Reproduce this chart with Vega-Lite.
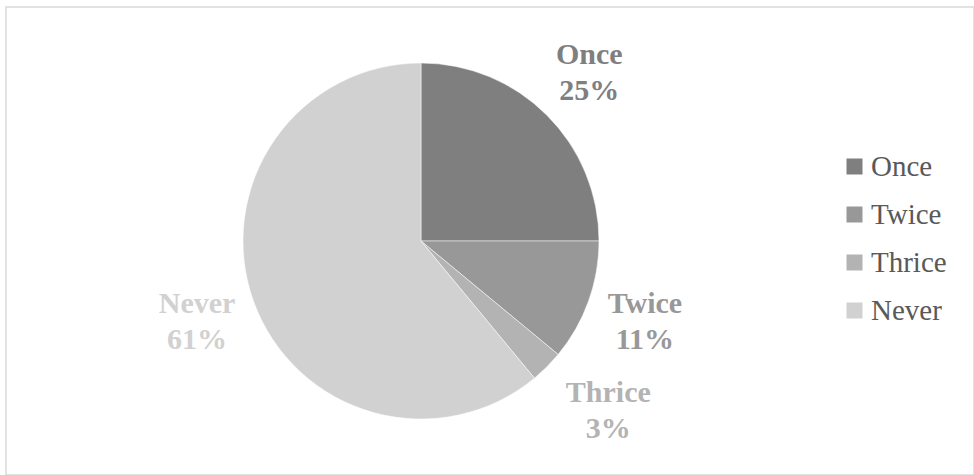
{
  "$schema": "https://vega.github.io/schema/vega-lite/v6.json",
  "width": 968,
  "height": 468,
  "autosize": "none",
  "padding": {"left": 6, "top": 7, "right": 0, "bottom": 0},
  "background": "white",
  "config": {
    "view": {"stroke": "#d9d9d9", "strokeWidth": 1.5},
    "legend": {"labelFont": "Liberation Serif"},
    "text": {"font": "Liberation Serif"}
  },
  "data": {"values": [
    {"cat": "Once", "value": 25, "order": 1},
    {"cat": "Twice", "value": 11, "order": 2},
    {"cat": "Thrice", "value": 3, "order": 3},
    {"cat": "Never", "value": 61, "order": 4}
  ]},
  "transform": [
    {"stack": "value", "groupby": [], "sort": [{"field": "order"}], "as": ["v0", "v1"]},
    {"calculate": "(datum.v0 + datum.v1) / 2", "as": "mid"},
    {"calculate": "[datum.cat, datum.value + '%']", "as": "lab"}
  ],
  "encoding": {
    "color": {
      "field": "cat", "type": "nominal",
      "scale": {"domain": ["Once", "Twice", "Thrice", "Never"], "range": ["#7f7f7f", "#989898", "#b3b3b3", "#d1d1d1"]},
      "legend": {
        "title": null, "orient": "none", "legendX": 834, "legendY": 145,
        "symbolType": "square", "symbolSize": 256, "symbolStrokeWidth": 0,
        "labelFont": "Liberation Serif", "labelFontSize": 29, "labelColor": "#595959",
        "labelOffset": 2, "rowPadding": 18, "padding": 0
      }
    }
  },
  "layer": [
    {
      "mark": {"type": "arc", "outerRadius": 178, "stroke": "white", "strokeWidth": 0.5},
      "encoding": {
        "x": {"value": 415},
        "y": {"value": 234},
        "theta": {"field": "v0", "type": "quantitative", "scale": {"domain": [0, 100]}},
        "theta2": {"field": "v1"}
      }
    },
    {
      "transform": [{"filter": "datum.cat != 'Thrice'"}],
      "mark": {"type": "text", "radius": 238, "dy": -18, "font": "Liberation Serif", "fontWeight": "bold", "fontSize": 30, "lineHeight": 36, "baseline": "middle", "align": "center"},
      "encoding": {
        "x": {"value": 415},
        "y": {"value": 234},
        "theta": {"field": "mid", "type": "quantitative", "scale": {"domain": [0, 100]}},
        "text": {"field": "lab"}
      }
    },
    {
      "transform": [{"filter": "datum.cat == 'Thrice'"}],
      "mark": {"type": "text", "radius": 238, "dx": 19, "dy": -16, "font": "Liberation Serif", "fontWeight": "bold", "fontSize": 30, "lineHeight": 36, "baseline": "middle", "align": "center"},
      "encoding": {
        "x": {"value": 415},
        "y": {"value": 234},
        "theta": {"field": "mid", "type": "quantitative", "scale": {"domain": [0, 100]}},
        "text": {"field": "lab"}
      }
    }
  ]
}
